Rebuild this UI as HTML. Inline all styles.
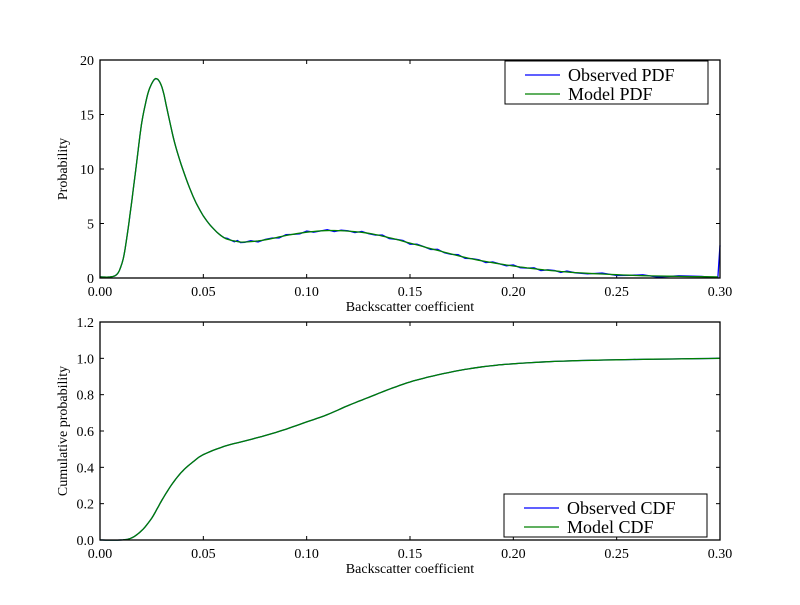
<!DOCTYPE html>
<html><head><meta charset="utf-8"><style>
body{margin:0;background:#fff;}
text{font-family:"Liberation Serif","DejaVu Serif",serif;fill:#000;}
</style></head><body>
<svg id="s" width="800" height="600" xmlns="http://www.w3.org/2000/svg">
<rect width="800" height="600" fill="#fff"/>
</svg>
<script>
const s=document.getElementById('s');
let h='';
const X=v=>100+v*620/0.3;
function axes(top,bot,ymax,ystep,ylab,dec){
  const Y=v=>bot-(v/ymax)*(bot-top);
  for(let i=0;i<=6;i++){const x=X(i*0.05);
    h+=`<line x1="${x}" y1="${bot}" x2="${x}" y2="${bot-4}" stroke="#000"/><line x1="${x}" y1="${top}" x2="${x}" y2="${top+4}" stroke="#000"/>`;
    h+=`<text x="${x}" y="${bot+18}" font-size="14" text-anchor="middle">${(i*0.05).toFixed(2)}</text>`;}
  for(let v=0;v<=ymax+1e-9;v+=ystep){const y=Y(v);
    h+=`<line x1="100" y1="${y}" x2="104" y2="${y}" stroke="#000"/><line x1="720" y1="${y}" x2="716" y2="${y}" stroke="#000"/>`;
    h+=`<text x="94" y="${y+5}" font-size="14" text-anchor="end">${dec?v.toFixed(1):Math.round(v)}</text>`;}
  h+=`<text x="410" y="${bot+33}" font-size="14" text-anchor="middle">Backscatter coefficient</text>`;
  h+=`<text transform="translate(67,${(top+bot)/2}) rotate(-90)" font-size="14" text-anchor="middle">${ylab}</text>`;
  return Y;
}
function line(pts,Y,col){
  let p=pts.map(([a,b])=>X(a).toFixed(1)+','+Y(b).toFixed(1)).join(' ');
  h+=`<polyline points="${p}" fill="none" stroke="${col}" stroke-width="1.3"/>`;
}
function smooth(pts,n){const out=[];for(let i=0;i<pts.length-1;i++){const p0=pts[Math.max(0,i-1)],p1=pts[i],p2=pts[i+1],p3=pts[Math.min(pts.length-1,i+2)];
  for(let k=0;k<n;k++){const t=k/n,t2=t*t,t3=t2*t;const f=(a,b,c,d)=>0.5*((2*b)+(-a+c)*t+(2*a-5*b+4*c-d)*t2+(-a+3*b-3*c+d)*t3);
  out.push([f(p0[0],p1[0],p2[0],p3[0]),f(p0[1],p1[1],p2[1],p3[1])]);}}out.push(pts[pts.length-1]);return out;}
const pdf=[[0,0.1],[.005,0.1],[.008,0.3],[.010,1],[.012,2.5],[.015,6.5],[.018,11],[.020,14],[.022,16],[.024,17.4],[.027,18.3],[.030,17.5],[.033,15],[.036,12.5],[.040,10],[.045,7.5],[.050,5.7],[.055,4.5],[.060,3.7],[.065,3.4],[.070,3.3],[.080,3.5],[.090,3.9],[.100,4.2],[.110,4.35],[.120,4.3],[.130,4.1],[.140,3.7],[.150,3.2],[.160,2.7],[.170,2.2],[.180,1.75],[.190,1.4],[.200,1.1],[.210,0.85],[.220,0.65],[.230,0.5],[.250,0.3],[.270,0.18],[.299,0.1]];
let Y1=axes(60,278,20,5,'Probability',false);
let sp=smooth(pdf,6);
let obs=sp.filter((_,i)=>i%2==0).map(([a,b],i)=>[a,Math.max(0,b+(a>0.06?Math.sin(i*2.3)*0.1:0))]);
obs.push([.299,0.1]);obs.push([.3,3.0]);
line(obs,Y1,'#0000ff');
line(sp,Y1,'#008000');
const cdf=[[0,0],[.01,0],[.015,0.01],[.02,0.05],[.025,0.12],[.03,0.22],[.035,0.31],[.04,0.38],[.045,0.43],[.05,0.47],[.06,0.515],[.07,0.545],[.08,0.575],[.09,0.61],[.10,0.65],[.11,0.69],[.12,0.74],[.13,0.785],[.14,0.83],[.15,0.87],[.16,0.9],[.17,0.925],[.18,0.945],[.19,0.96],[.20,0.97],[.22,0.983],[.25,0.992],[.30,1.0]];
let Y2=axes(322,540,1.2,0.2,'Cumulative probability',true);
let sc=smooth(cdf,6);
line(sc,Y2,'#0000ff');
line(sc,Y2,'#008000');
h+=`<rect x="100" y="60" width="620" height="218" fill="none" stroke="#000" stroke-width="1.3"/>`;
h+=`<rect x="100" y="322" width="620" height="218" fill="none" stroke="#000" stroke-width="1.3"/>`;
function legend(x,y,a,b){
  h+=`<rect x="${x}" y="${y}" width="203" height="43" fill="#fff" stroke="#000"/>`;
  h+=`<line x1="${x+20}" y1="${y+14}" x2="${x+55}" y2="${y+14}" stroke="#0000ff" stroke-width="1.3"/>`;
  h+=`<line x1="${x+20}" y1="${y+33}" x2="${x+55}" y2="${y+33}" stroke="#008000" stroke-width="1.3"/>`;
  h+=`<text x="${x+63}" y="${y+20}" font-size="18">${a}</text>`;
  h+=`<text x="${x+63}" y="${y+39}" font-size="18">${b}</text>`;
}
legend(505,61,'Observed PDF','Model PDF');
legend(504,494,'Observed CDF','Model CDF');
s.innerHTML+=h;
</script>
</body></html>
